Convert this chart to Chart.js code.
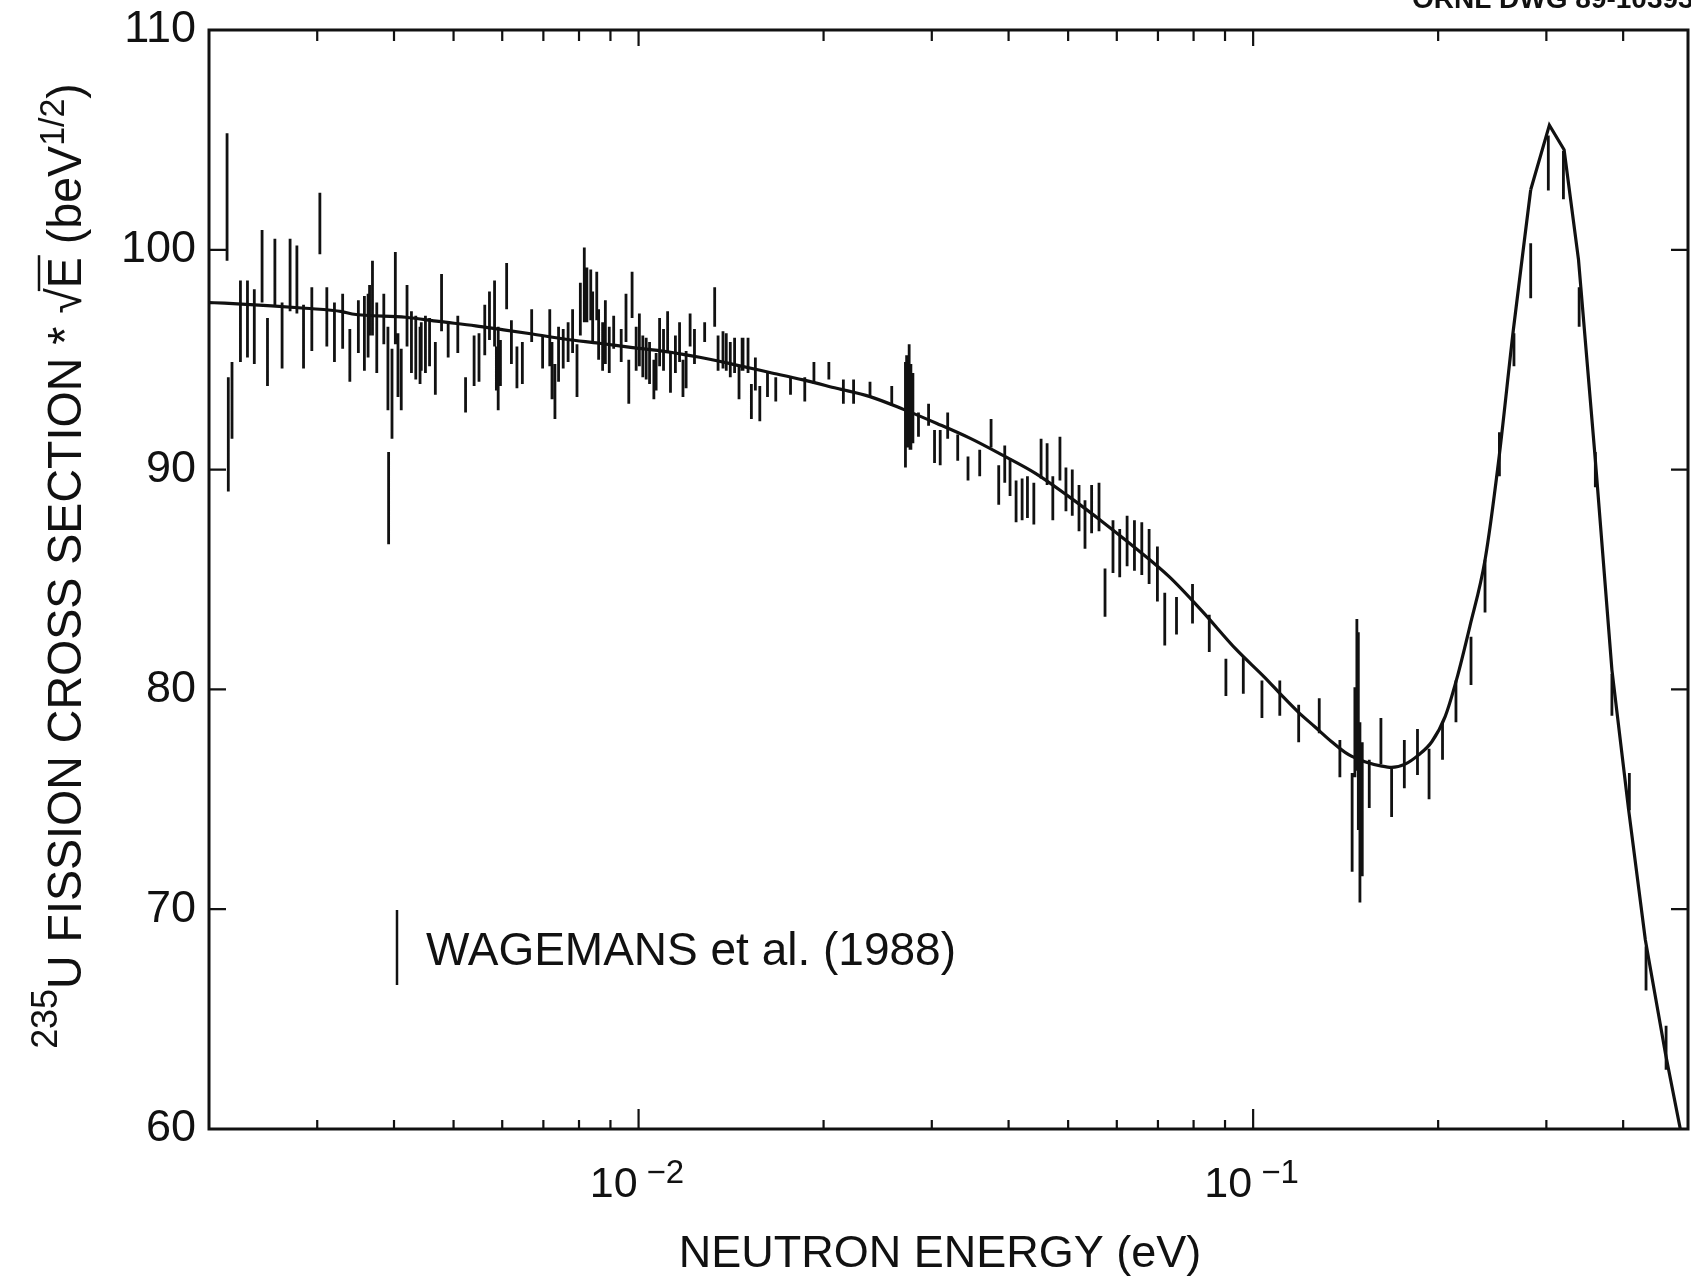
<!DOCTYPE html>
<html>
<head>
<meta charset="utf-8">
<title>235U fission cross section</title>
<script src="https://cdn.jsdelivr.net/npm/chart.js@4.4.1/dist/chart.umd.min.js"></script>
<style>
  html, body { margin: 0; padding: 0; background: #fff; }
  #wrap { width: 1691px; height: 1280px; }
</style>
</head>
<body>
<div id="wrap"><canvas id="chart" width="1691" height="1280"></canvas></div>
<script>
// Wagemans et al. (1988) points: energy (eV), bar bottom, bar top
const barEnergy = [
  0.00214, 0.00215, 0.00218, 0.00225, 0.00231, 0.00237, 0.00244, 0.00249, 0.00256, 0.00263,
  0.00271, 0.00278, 0.00285, 0.00294, 0.00303, 0.00311, 0.00320, 0.00330, 0.00339, 0.00350,
  0.00358, 0.00363, 0.00365, 0.00369, 0.00375, 0.00385, 0.00391, 0.00392, 0.00397, 0.00402,
  0.00406, 0.00411, 0.00420, 0.00427, 0.00434, 0.00441, 0.00443, 0.00450, 0.00457, 0.00467,
  0.00478, 0.00490, 0.00508, 0.00523, 0.00540,
  0.00550, 0.00562, 0.00572, 0.00583, 0.00587, 0.00591, 0.00596, 0.00610, 0.00621, 0.00634,
  0.00647, 0.00670, 0.00698, 0.00717, 0.00723, 0.00731, 0.00741, 0.00754, 0.00768, 0.00781,
  0.00794, 0.00804, 0.00816, 0.00824, 0.00836, 0.00842, 0.00855, 0.00861, 0.00874, 0.00883,
  0.00896, 0.00911, 0.00937, 0.00954, 0.00964, 0.00976, 0.00991, 0.01003, 0.01016, 0.01029,
  0.01042, 0.01059, 0.01068, 0.01082, 0.01098, 0.01115, 0.01127, 0.01148, 0.01166, 0.01181,
  0.01195, 0.01213, 0.01233, 0.01281, 0.01330, 0.01347, 0.01372, 0.01389, 0.01410, 0.01433,
  0.01457, 0.01474, 0.01479, 0.01507, 0.01526, 0.01549, 0.01575, 0.01621, 0.01672, 0.01767,
  0.01864, 0.01929, 0.02040, 0.02154, 0.02238, 0.02380, 0.02582, 0.02718, 0.02730, 0.02740,
  0.02756, 0.02765, 0.02774, 0.02795, 0.02854, 0.02964, 0.03031, 0.03096, 0.03184, 0.03306,
  0.03436, 0.03590, 0.03746, 0.03855, 0.03943,
  0.04022, 0.04114, 0.04208, 0.04293, 0.04397, 0.04518, 0.04621, 0.04721, 0.04849, 0.04959,
  0.05078, 0.05208, 0.05326, 0.05460, 0.05613, 0.05741, 0.05915, 0.06066, 0.06236, 0.06410,
  0.06589, 0.06772, 0.06986, 0.07181, 0.07504, 0.07968, 0.08484, 0.09030, 0.09638, 0.10335,
  0.1105, 0.1186, 0.1281, 0.1384, 0.1449, 0.1464, 0.1475, 0.1483, 0.1492, 0.1505,
  0.1545, 0.1614, 0.1680, 0.1762, 0.1851, 0.1933, 0.2033, 0.2138, 0.2262,
  0.2384, 0.2516, 0.2657, 0.2829, 0.3022, 0.3198, 0.3392, 0.3604, 0.3835, 0.4094,
  0.4358, 0.4698
];
const barLow = [
  99.5, 89.0, 91.4, 94.9, 95.1, 94.8, 97.6, 93.8, 97.4, 94.6,
  97.2, 97.1, 94.6, 95.4, 99.8, 95.6, 94.9, 95.5, 94.0, 95.3,
  94.5, 95.1, 96.1, 96.1, 94.4, 95.7, 92.7, 86.6, 91.4, 95.7,
  93.3, 92.7, 95.6, 94.4, 94.1, 93.9, 94.5, 94.4, 94.7, 93.4,
  96.3, 95.1, 95.3, 92.6, 93.8,
  94.0, 95.2, 95.9, 95.6, 93.6, 92.7, 93.8, 97.3, 94.8, 93.7,
  93.9, 95.8, 94.6, 94.7, 93.2, 92.3, 94.0, 94.6, 94.9, 95.3,
  93.3, 96.1, 96.7, 96.7, 96.8, 95.8, 96.8, 95.0, 94.5, 94.8,
  94.4, 95.5, 94.9, 95.8, 93.0, 96.9, 94.5, 94.7, 94.2, 94.1,
  93.9, 93.2, 93.6, 94.7, 94.5, 95.3, 93.5, 94.4, 94.9, 93.3,
  93.7, 95.6, 94.8, 95.8, 96.5, 94.5, 94.6, 94.5, 94.2, 94.4,
  93.2, 94.5, 94.5, 94.4, 92.3, 93.6, 92.2, 93.3, 93.1, 93.4,
  93.1, 93.9, 94.1, 93.0, 93.0, 93.3, 92.9, 90.1, 91.6, 91.0,
  91.5, 90.9, 90.9, 91.2, 91.5, 92.0, 90.3, 90.2, 91.4, 90.4,
  89.5, 89.7, 91.0, 88.4, 89.4,
  88.8, 87.6, 87.7, 87.8, 87.5, 89.6, 89.3, 87.7, 89.5, 88.1,
  87.9, 87.2, 86.4, 87.1, 87.2, 83.3, 85.3, 85.1, 85.6, 85.4,
  85.2, 84.8, 84.0, 82.0, 82.5, 83.0, 81.7, 79.7, 79.8, 78.7,
  78.8, 77.6, 78.0, 76.0, 71.7, 76.0, 76.3, 73.6, 70.3, 71.5,
  74.6, 76.6, 74.2, 75.5, 76.1, 75.0, 76.8, 78.5, 80.2,
  83.5, 89.7, 94.7, 97.8, 102.7, 102.3, 96.5, 89.2, 78.8, 74.5,
  66.3, 62.7
];
const barHigh = [
  105.3, 94.2, 94.9, 98.6, 98.6, 98.2, 100.9, 96.9, 100.5, 97.6,
  100.5, 100.2, 97.5, 98.3, 102.6, 98.3, 97.6, 98.0, 96.4, 97.7,
  97.9, 98.0, 98.4, 99.5, 97.6, 98.0, 96.5, 90.8, 95.5, 99.9,
  96.2, 95.5, 98.4, 97.2, 97.0, 96.5, 96.7, 97.0, 96.9, 95.8,
  98.9, 96.7, 97.0, 94.2, 96.1,
  96.2, 97.5, 98.1, 98.6, 95.6, 96.5, 95.9, 99.4, 96.8, 95.6,
  95.8, 97.3, 96.1, 97.3, 95.8, 94.8, 96.5, 96.4, 96.7, 97.3,
  95.7, 98.5, 100.1, 99.2, 99.1, 98.1, 99.0, 97.3, 96.7, 97.7,
  96.5, 97.0, 96.4, 98.0, 95.0, 99.0, 96.5, 97.1, 96.1, 96.0,
  95.8, 95.0, 95.3, 96.9, 96.4, 97.2, 95.3, 96.1, 96.7, 95.0,
  95.4, 97.1, 96.4, 96.7, 98.3, 96.1, 96.3, 96.2, 95.8, 96.0,
  94.7, 96.0, 96.0, 96.0, 93.9, 95.1, 93.8, 94.4, 94.2, 94.2,
  94.2, 94.9, 94.9, 94.1, 94.1, 94.0, 93.8, 94.9, 95.2, 93.9,
  95.7, 93.6, 94.8, 94.4, 92.6, 93.0, 91.8, 91.8, 92.6, 91.6,
  90.6, 90.9, 92.3, 90.2, 91.1,
  90.5, 89.5, 89.6, 89.7, 89.4, 91.4, 91.2, 89.7, 91.5, 90.1,
  90.0, 89.3, 88.6, 89.3, 89.4, 85.5, 87.7, 87.3, 87.9, 87.7,
  87.6, 87.3, 86.5, 84.4, 84.2, 84.8, 83.4, 81.4, 81.5, 80.4,
  80.4, 79.3, 79.6, 77.7, 76.2, 80.1, 83.2, 82.6, 78.5, 77.6,
  76.8, 78.7, 76.4, 77.7, 78.2, 77.3, 78.5, 80.4, 82.4,
  85.9, 91.7, 96.2, 100.3, 105.2, 104.5, 98.3, 90.8, 80.7, 76.2,
  68.3, 64.7
];

// evaluated curve: smooth part below the resonance
const curveEnergy = [
  0.002, 0.00212, 0.00253, 0.00287, 0.00329, 0.00342, 0.00418, 0.00473, 0.00543, 0.00593,
  0.00672, 0.00762, 0.00863, 0.00978, 0.01109, 0.01257, 0.01425, 0.01635, 0.01853, 0.02100,
  0.02380, 0.02698, 0.03058, 0.03466, 0.03903, 0.04424, 0.05015, 0.05683, 0.06440, 0.07300,
  0.08274, 0.09376, 0.1044, 0.1112, 0.1183, 0.1260, 0.1342, 0.1428, 0.1520, 0.1619,
  0.1680, 0.1767, 0.1857, 0.1953, 0.2053, 0.2142, 0.2252, 0.2384, 0.2506, 0.2651,
  0.2829
];
const curveValue = [
  97.6, 97.57, 97.45, 97.34, 97.19, 97.08, 96.93, 96.74, 96.54, 96.39,
  96.17, 95.93, 95.75, 95.55, 95.37, 95.11, 94.79, 94.42, 94.08, 93.7,
  93.32, 92.74, 92.1, 91.42, 90.67, 89.83, 88.77, 87.63, 86.42, 85.13,
  83.54, 81.83, 80.55, 79.74, 78.98, 78.3, 77.62, 77.04, 76.71, 76.51,
  76.45, 76.6, 77.01, 77.62, 78.76, 80.43, 82.86, 85.89, 90.29, 96.36,
  102.73
];
// evaluated curve: the 0.3 eV resonance top, drawn as a polyline
const peakEnergy = [0.2829, 0.3034, 0.3206, 0.3384, 0.3604, 0.3835, 0.4083, 0.4347, 0.4686, 0.4955];
const peakValue = [102.73, 105.67, 104.55, 99.54, 90.44, 80.89, 74.52, 68.6, 63.45, 60.0];

const yTicks = [60, 70, 80, 90, 100, 110];
const xMajorTicks = [0.01, 0.1];
const xTickBase = ['10', '10'];
const xTickExp = ['\u22122', '\u22121'];
const xMinorTicks = [0.003, 0.004, 0.005, 0.006, 0.007, 0.008, 0.009,
  0.02, 0.03, 0.04, 0.05, 0.06, 0.07, 0.08, 0.09, 0.2, 0.3, 0.4];

const INK = '#111';
const FAMILY = '"Liberation Sans", Arial, Helvetica, sans-serif';
const font = (size, weight) => (weight ? weight + ' ' : '') + size + 'px ' + FAMILY;

// error bars as one line dataset broken by gaps
const barPoints = [];
barEnergy.forEach((e, i) => {
  barPoints.push({ x: e, y: barLow[i] }, { x: e, y: barHigh[i] }, { x: e, y: null });
});
const curvePoints = curveEnergy.map((e, i) => ({ x: e, y: curveValue[i] }));
const peakPoints = peakEnergy.map((e, i) => ({ x: e, y: peakValue[i] }));

function drawYTitle(ctx, baseX, midY) {
  const parts = [
    { t: '235', f: font(37), rise: 24 },
    { t: 'U FISSION CROSS SECTION * ', f: font(48), rise: 0 },
    { t: '\u221A', f: font(48), rise: 0 },
    { t: 'E', f: font(48), rise: 0, over: true },
    { t: ' (beV', f: font(48), rise: 0 },
    { t: '1/2', f: font(35), rise: 17 },
    { t: ')', f: font(48), rise: 0 }
  ];
  let total = 0;
  parts.forEach(p => { ctx.font = p.f; p.w = ctx.measureText(p.t).width; total += p.w; });
  ctx.save();
  ctx.translate(baseX, midY);
  ctx.rotate(-Math.PI / 2);
  ctx.scale(0.97, 1);
  ctx.textAlign = 'left';
  ctx.textBaseline = 'alphabetic';
  let u = -total / 2;
  parts.forEach(p => {
    ctx.font = p.f;
    ctx.fillText(p.t, u, -p.rise);
    if (p.over) {
      ctx.lineWidth = 2.5;
      ctx.beginPath();
      ctx.moveTo(u - 3, -42);
      ctx.lineTo(u + p.w + 2, -42);
      ctx.stroke();
    }
    u += p.w;
  });
  ctx.restore();
}

const decor = {
  id: 'decor',
  afterDraw(chart) {
    const { ctx, chartArea: a } = chart;
    const x = chart.scales.x, y = chart.scales.y;
    ctx.save();
    ctx.strokeStyle = INK;
    ctx.fillStyle = INK;

    // frame
    ctx.lineWidth = 3;
    ctx.strokeRect(a.left, a.top, a.right - a.left, a.bottom - a.top);

    // inward tick marks
    ctx.lineWidth = 2.2;
    ctx.beginPath();
    yTicks.forEach(v => {
      const py = y.getPixelForValue(v);
      ctx.moveTo(a.left, py); ctx.lineTo(a.left + 17, py);
      ctx.moveTo(a.right, py); ctx.lineTo(a.right - 17, py);
    });
    const xTick = (v, down, up) => {
      const px = x.getPixelForValue(v);
      ctx.moveTo(px, a.bottom); ctx.lineTo(px, a.bottom - down);
      ctx.moveTo(px, a.top); ctx.lineTo(px, a.top + up);
    };
    xMajorTicks.forEach(v => xTick(v, 20, 16));
    xMinorTicks.forEach(v => xTick(v, 9, 11));
    ctx.stroke();

    // x tick labels 10^-2, 10^-1
    ctx.textBaseline = 'alphabetic';
    xMajorTicks.forEach((v, i) => {
      const px = x.getPixelForValue(v);
      ctx.font = font(43);
      ctx.textAlign = 'right';
      ctx.fillText(xTickBase[i], px - 1, 1197);
      ctx.font = font(33);
      ctx.textAlign = 'left';
      ctx.fillText(xTickExp[i], px + 8, 1183);
    });

    // x axis title
    ctx.font = font(45);
    ctx.textAlign = 'center';
    ctx.fillText('NEUTRON ENERGY (eV)', 940, 1267);

    // y axis title
    drawYTitle(ctx, 81, 566);

    // legend
    ctx.lineWidth = 2.5;
    ctx.beginPath();
    ctx.moveTo(397, 910);
    ctx.lineTo(397, 985);
    ctx.stroke();
    ctx.font = font(46);
    ctx.textAlign = 'left';
    ctx.fillText('WAGEMANS et al. (1988)', 426, 965);

    // drawing number, cut at the top edge
    ctx.font = font(28, 'bold');
    ctx.fillText('ORNL DWG 89-10393', 1412, 8);

    ctx.restore();
  }
};

Chart.defaults.font.family = FAMILY;
Chart.defaults.color = INK;

new Chart(document.getElementById('chart').getContext('2d'), {
  type: 'line',
  data: {
    datasets: [
      {
        label: 'WAGEMANS et al. (1988)',
        data: barPoints,
        borderColor: INK,
        borderWidth: 2.8,
        pointRadius: 0,
        spanGaps: false,
        tension: 0
      },
      {
        label: 'evaluation',
        data: curvePoints,
        borderColor: INK,
        borderWidth: 3.2,
        pointRadius: 0,
        cubicInterpolationMode: 'monotone'
      },
      {
        label: 'evaluation (resonance)',
        data: peakPoints,
        borderColor: INK,
        borderWidth: 3.2,
        borderJoinStyle: 'miter',
        pointRadius: 0,
        tension: 0
      }
    ]
  },
  options: {
    responsive: false,
    animation: false,
    events: [],
    layout: { padding: { left: 0, top: 30, right: 3, bottom: 0 } },
    plugins: {
      legend: { display: false },
      tooltip: { enabled: false }
    },
    scales: {
      x: {
        type: 'logarithmic',
        min: 0.002,
        max: 0.51,
        grid: { display: false },
        border: { display: false },
        ticks: { display: false },
        afterFit: s => { s.height = 151; }
      },
      y: {
        type: 'linear',
        min: 60,
        max: 110,
        grid: { display: false },
        border: { display: false },
        afterBuildTicks: s => { s.ticks = yTicks.map(v => ({ value: v })); },
        ticks: {
          padding: 5,
          font: { size: 45, lineHeight: 1 },
          color: INK
        },
        afterFit: s => { s.width = 209; s.paddingTop = 0; s.paddingBottom = 0; }
      }
    }
  },
  plugins: [decor]
});
</script>
</body>
</html>
